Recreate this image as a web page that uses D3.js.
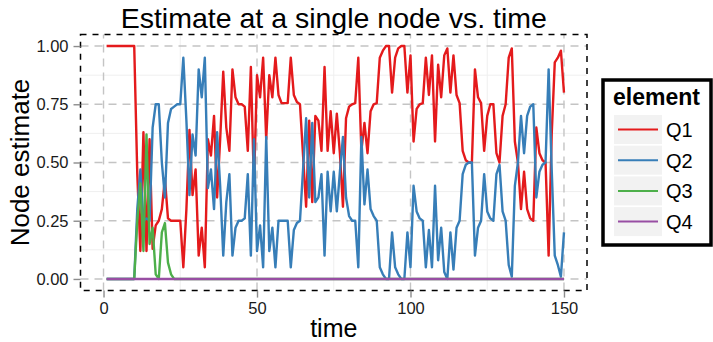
<!DOCTYPE html>
<html>
<head>
<meta charset="utf-8">
<script src="https://cdn.jsdelivr.net/npm/d3@7"></script>
<style>
  body { margin: 0; background: #fff; }
  svg { font-family: "Liberation Sans", Arial, sans-serif; }
</style>
</head>
<body>
<div id="chart"></div>
<script>
// values, time 1..150
const time = d3.range(1, 151);
const elements = ['Q1', 'Q2', 'Q3', 'Q4'];
const colors = ['#E41A1C', '#377EB8', '#4DAF4A', '#984EA3'];

const q1 = [1, 1, 1, 1, 1, 1, 1, 1, 1, 1,
  0.45, 0.12, 0.63, 0.12, 0.60, 0.13, 0.23, 0.25, 0.30, 0.43,
  0.26, 0.25, 0.25, 0.25, 0.25, 0.05, 0.30, 0.64, 0.36, 0.47,
  0.10, 0.22, 0.05, 0.60, 0.53, 0.70, 0.35, 0.60, 0.89, 0.65,
  0.55, 0.90, 0.78, 0.75, 0.75, 0.74, 0.55, 0.91, 0.40, 0.875,
  0.78, 0.95, 0.60, 0.875, 0.78, 0.95, 0.79, 0.755, 0.755, 0.755,
  0.95, 0.79, 0.76, 0.75, 0.53, 0.31, 0.68, 0.33, 0.70, 0.68,
  0.55, 0.91, 0.55, 0.72, 0.54, 0.71, 0.54, 0.31, 0.69, 0.74,
  0.75, 0.755, 0.95, 0.55, 0.67, 0.54, 0.72, 0.75, 0.755, 0.95,
  0.98, 1.0, 1.0, 0.80, 0.95, 0.99, 1.0, 1.0, 0.80, 0.96,
  0.59, 0.73, 0.75, 0.755, 0.95, 0.79, 0.96, 0.59, 0.92, 0.78,
  0.96, 0.99, 0.80, 0.96, 0.79, 0.755, 0.55, 0.51, 0.50, 0.50,
  0.90, 0.78, 0.755, 0.55, 0.70, 0.75, 0.75, 0.54, 0.50, 0.70,
  0.75, 0.95, 0.99, 0.59, 0.50, 0.30, 0.46, 0.30, 0.26, 0.25,
  0.65, 0.54, 0.51, 0.50, 0.10, 0.62, 0.93, 0.95, 0.98, 0.80];

const q2 = [0, 0, 0, 0, 0, 0, 0, 0, 0, 0,
  0.30, 0.47, 0.25, 0.26, 0.25, 0.65, 0.75, 0.75, 0.50, 0.35,
  0.67, 0.73, 0.74, 0.75, 0.75, 0.95, 0.68, 0.36, 0.62, 0.53,
  0.90, 0.78, 0.95, 0.39, 0.47, 0.30, 0.63, 0.40, 0.10, 0.33,
  0.45, 0.10, 0.22, 0.25, 0.25, 0.26, 0.45, 0.10, 0.60, 0.12,
  0.23, 0.05, 0.61, 0.12, 0.22, 0.05, 0.25, 0.25, 0.25, 0.25,
  0.05, 0.21, 0.24, 0.25, 0.47, 0.69, 0.35, 0.67, 0.33, 0.35,
  0.45, 0.10, 0.46, 0.29, 0.46, 0.29, 0.46, 0.61, 0.35, 0.27,
  0.25, 0.25, 0.05, 0.61, 0.32, 0.47, 0.30, 0.27, 0.25, 0.05,
  0.02, 0, 0, 0.20, 0.05, 0.02, 0, 0, 0.20, 0.05,
  0.40, 0.29, 0.26, 0.25, 0.05, 0.21, 0.05, 0.40, 0.08, 0.22,
  0.03, 0, 0.20, 0.04, 0.22, 0.25, 0.45, 0.49, 0.50, 0.50,
  0.10, 0.22, 0.25, 0.45, 0.29, 0.26, 0.25, 0.45, 0.49, 0.29,
  0.25, 0.06, 0.01, 0.40, 0.50, 0.70, 0.54, 0.70, 0.74, 0.75,
  0.35, 0.46, 0.49, 0.50, 0.90, 0.47, 0.10, 0.06, 0.01, 0.20];

const q3 = [0, 0, 0, 0, 0, 0, 0, 0, 0, 0,
  0.25, 0.41, 0.12, 0.62, 0.15, 0.22, 0.02, 0, 0.20, 0.24,
  0.07, 0.02].concat(new Array(128).fill(0));

const q4 = new Array(150).fill(0);

const series = [q1, q2, q3, q4];

const xTicks = [0, 50, 100, 150];
const yTicks = [0, 0.25, 0.5, 0.75, 1];

const width = 713, height = 342;
const margin = { top: 34.4, right: 126, bottom: 51.4, left: 80.5 };

const svg = d3.select('#chart').append('svg')
  .attr('width', width)
  .attr('height', height);

const x = d3.scaleLinear()
  .domain([-7.5, 157.5])
  .range([margin.left, width - margin.right]);

const y = d3.scaleLinear()
  .domain([-0.05, 1.05])
  .range([height - margin.bottom, margin.top]);

const x0 = x.range()[0], x1 = x.range()[1];
const y0 = y.range()[0], y1 = y.range()[1];

// minor grid
const grid = svg.append('g');
[12.5, 37.5, 62.5, 87.5].forEach(v => {
  grid.append('line').attr('x1', x0).attr('x2', x1)
    .attr('y1', y(v / 100)).attr('y2', y(v / 100))
    .attr('stroke', '#efefef').attr('stroke-width', 1);
});
[25, 75, 125].forEach(v => {
  grid.append('line').attr('y1', y0).attr('y2', y1)
    .attr('x1', x(v)).attr('x2', x(v))
    .attr('stroke', '#efefef').attr('stroke-width', 1);
});

// major grid, dashed
yTicks.forEach(v => {
  grid.append('line').attr('x1', x0).attr('x2', x1)
    .attr('y1', y(v)).attr('y2', y(v))
    .attr('stroke', '#c4c4c4').attr('stroke-width', 1.4)
    .attr('stroke-dasharray', '8,6');
});
xTicks.forEach(v => {
  grid.append('line').attr('y1', y0).attr('y2', y1)
    .attr('x1', x(v)).attr('x2', x(v))
    .attr('stroke', '#c4c4c4').attr('stroke-width', 1.4)
    .attr('stroke-dasharray', '8,6');
});

// lines
const line = d3.line()
  .x((d, i) => x(time[i]))
  .y(d => y(d));

svg.append('g').selectAll('path')
  .data(series)
  .join('path')
  .attr('d', d => line(d))
  .attr('fill', 'none')
  .attr('stroke', (d, i) => colors[i])
  .attr('stroke-width', 2.4)
  .attr('stroke-linejoin', 'round');

// panel border
svg.append('rect')
  .attr('x', x0).attr('y', y1)
  .attr('width', x1 - x0).attr('height', y0 - y1)
  .attr('fill', 'none')
  .attr('stroke', '#000').attr('stroke-width', 1.5)
  .attr('stroke-dasharray', '6,6');

// axes
const xAxis = d3.axisBottom(x).tickValues(xTicks).tickSize(7).tickPadding(5);
const yAxis = d3.axisLeft(y).tickValues(yTicks).tickSize(7).tickPadding(5)
  .tickFormat(d3.format('.2f'));

const gx = svg.append('g')
  .attr('transform', `translate(0,${y0})`)
  .call(xAxis);
const gy = svg.append('g')
  .attr('transform', `translate(${x0},0)`)
  .call(yAxis);

[gx, gy].forEach(g => {
  g.select('.domain').remove();
  g.selectAll('.tick line').attr('stroke', '#8c8c8c').attr('stroke-width', 1.4);
  g.selectAll('.tick text')
    .attr('fill', '#1a1a1a')
    .style('font-size', '16.5px')
    .style('font-family', '"Liberation Sans", Arial, sans-serif');
});

// titles
svg.append('text')
  .attr('x', (x0 + x1) / 2).attr('y', 28)
  .attr('text-anchor', 'middle')
  .style('font-size', '28.5px')
  .text('Estimate at a single node vs. time');

svg.append('text')
  .attr('x', (x0 + x1) / 2).attr('y', 337)
  .attr('text-anchor', 'middle')
  .style('font-size', '25px')
  .text('time');

svg.append('text')
  .attr('transform', `translate(29,${(y0 + y1) / 2}) rotate(-90)`)
  .attr('text-anchor', 'middle')
  .style('font-size', '26px')
  .text('Node estimate');

// legend
const legend = svg.append('g').attr('transform', 'translate(603,80)');
legend.append('rect')
  .attr('x', 0).attr('y', 0)
  .attr('width', 108).attr('height', 165)
  .attr('fill', '#fff')
  .attr('stroke', '#000').attr('stroke-width', 3.5);

legend.append('text')
  .attr('x', 10).attr('y', 25)
  .style('font-size', '23px')
  .style('font-weight', 'bold')
  .text('element');

const keys = legend.selectAll('g.key')
  .data(elements)
  .join('g')
  .attr('class', 'key')
  .attr('transform', (d, i) => `translate(11,${35 + i * 30.7})`);

keys.append('rect')
  .attr('width', 48).attr('height', 29)
  .attr('fill', '#f2f2f2');
keys.append('line')
  .attr('x1', 4).attr('x2', 44)
  .attr('y1', 14.5).attr('y2', 14.5)
  .attr('stroke', (d, i) => colors[i])
  .attr('stroke-width', 2);
keys.append('text')
  .attr('x', 52).attr('y', 22)
  .style('font-size', '20px')
  .text(d => d);
</script>
</body>
</html>
